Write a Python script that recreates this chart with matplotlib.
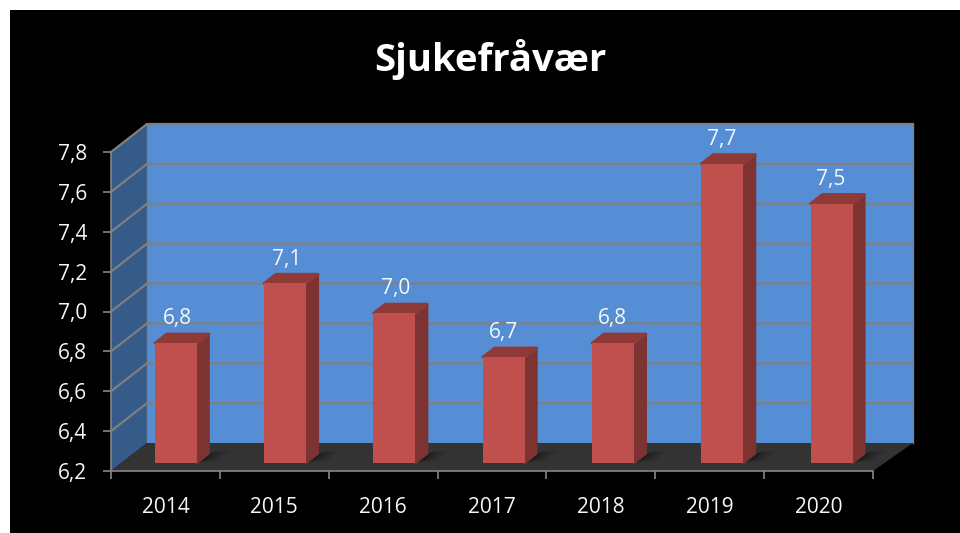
"""Sjukefravaer 3D-style column chart."""
import matplotlib
matplotlib.use("Agg")
import matplotlib.pyplot as plt
from matplotlib.patches import Polygon, Rectangle

plt.rcParams["font.family"] = ["Open Sans", "DejaVu Sans"]

years = ["2014", "2015", "2016", "2017", "2018", "2019", "2020"]
values = [6.8, 7.1, 6.95, 6.73, 6.8, 7.7, 7.5]
labels = ["6,8", "7,1", "7,0", "6,7", "6,8", "7,7", "7,5"]
yticks = [6.2, 6.4, 6.6, 6.8, 7.0, 7.2, 7.4, 7.6, 7.8]
title = "Sjukefråvær"

W, H = 960, 533
L, R, T, B = 111, 873, 152, 471      # front plane of the plot box, in px
YMIN, YMAX = 6.2, 7.8

WALL = "#558ed5"
SIDE = "#375b88"
FLOOR = "#333333"
GRID = "#7f7f7f"
FRONT = "#c0504d"
BAR_SIDE = "#7c3331"
BAR_TOP = "#8f3a37"
TXT = "#f4f8fc"

fig = plt.figure(figsize=(W / 100, H / 100), dpi=100, facecolor="white")
fig.add_artist(Rectangle((10 / W, 0), 1, 1 - 10 / H, transform=fig.transFigure,
                         facecolor="black", edgecolor="none", zorder=-5))
ax = fig.add_axes([L / W, 1 - B / H, (R - L) / W, (B - T) / H])
ax.patch.set_visible(False)
ax.set_xlim(0, len(years))
ax.set_ylim(YMIN, YMAX)

# depth of the box as data units
cat_px = (R - L) / len(years)
DX = 36 / cat_px
DY = 28 / ((B - T) / (YMAX - YMIN))


def pt(x, v, d=1.0):
    return (x + d * DX, v + d * DY)


def poly(points, color, z, **kw):
    ax.add_patch(Polygon(points, closed=True, facecolor=color, edgecolor="none",
                         zorder=z, clip_on=False, **kw))


n = len(years)
xr = n + 4 / cat_px   # back wall runs a little further right
# walls and floor
poly([pt(0, YMIN), pt(xr, YMIN), pt(xr, YMAX), pt(0, YMAX)], WALL, 1)
poly([pt(0, YMIN, 0), pt(0, YMIN), pt(0, YMAX), pt(0, YMAX, 0)], SIDE, 1)
poly([pt(0, YMIN, 0), pt(n, YMIN, 0), pt(xr, YMIN), pt(0, YMIN)], FLOOR, 2)

# gridlines, running over side wall and back wall
for t in yticks[1:]:
    xs, ys = zip(pt(0, t, 0), pt(0, t), pt(xr, t))
    ax.plot(xs, ys, color=GRID, lw=1.6, zorder=1.5, clip_on=False,
            solid_joinstyle="miter")
xs, ys = zip(pt(0, YMIN), pt(0, YMAX), pt(xr, YMAX), pt(xr, YMIN))
ax.plot(xs, ys, color=GRID, lw=1.0, zorder=1.6, clip_on=False)

# bars: front face through ax.bar, side and top as polygons
D0, D1 = 0.29, 0.62
BW = 42 / cat_px
STEP = 1.004
for i, (v, lab) in enumerate(zip(values, labels)):
    x0 = i * STEP + 0.5 - 0.5 * BW
    x1 = x0 + BW
    # soft shadow on the floor
    for grow, a in ((0.16, 0.10), (0.10, 0.15), (0.05, 0.2)):
        poly([pt(x1, YMIN, D0), pt(x1 + grow, YMIN, D0 + 0.1),
              pt(x1 + grow, YMIN, D1 + 0.1), pt(x1, YMIN, D1)], "black", 3, alpha=a)
    fx, base = pt(x0, YMIN, D0)
    top = pt(x0, v, D0)[1]
    ax.bar(fx, top - base, BW, bottom=base, align="edge", color=FRONT,
           edgecolor="none", zorder=6, clip_on=False)
    side = [pt(x1, YMIN, D0), pt(x1, YMIN, D1), pt(x1, v, D1), pt(x1, v, D0)]
    cap = [pt(x0, v, D0), pt(x0, v, D1), pt(x1, v, D1), pt(x1, v, D0)]
    ax.add_patch(Polygon(side, closed=True, facecolor=BAR_SIDE, edgecolor=BAR_SIDE,
                         lw=1.5, joinstyle="round", zorder=5, clip_on=False))
    ax.add_patch(Polygon(cap, closed=True, facecolor=BAR_TOP, edgecolor=BAR_TOP,
                         lw=2, joinstyle="round", zorder=5, clip_on=False))
    lx, ly = pt(i + 0.5, v, 1.0)
    ax.annotate(lab, (lx, ly), xytext=(-24, -6), textcoords="offset pixels",
                ha="center", va="bottom", color=TXT, fontsize=15, zorder=8,
                annotation_clip=False)

# axes
for s in ("top", "right"):
    ax.spines[s].set_visible(False)
for s in ("left", "bottom"):
    ax.spines[s].set_color("#868686")
    ax.spines[s].set_linewidth(1.2)
    ax.spines[s].set_zorder(7)
ax.set_yticks(yticks)
ax.set_yticklabels([f"{t:.1f}".replace(".", ",") for t in yticks],
                   color=TXT, fontsize=15)
ax.set_xticks(range(n + 1))
ax.set_xticklabels([""] * (n + 1))
ax.tick_params(axis="both", color="#868686", width=1.2, length=6)
ax.tick_params(axis="y", pad=11)
for i, y in enumerate(years):
    ax.annotate(y, (i + 0.5, YMIN), xytext=(0, -47), textcoords="offset pixels",
                ha="center", va="bottom", color=TXT, fontsize=15, annotation_clip=False)

fig.text(490 / W, 1 - 59 / H, title, ha="center", va="center", color="white",
         fontsize=27.5, fontweight="bold")

fig.savefig("out.png", dpi=100, facecolor="white")
